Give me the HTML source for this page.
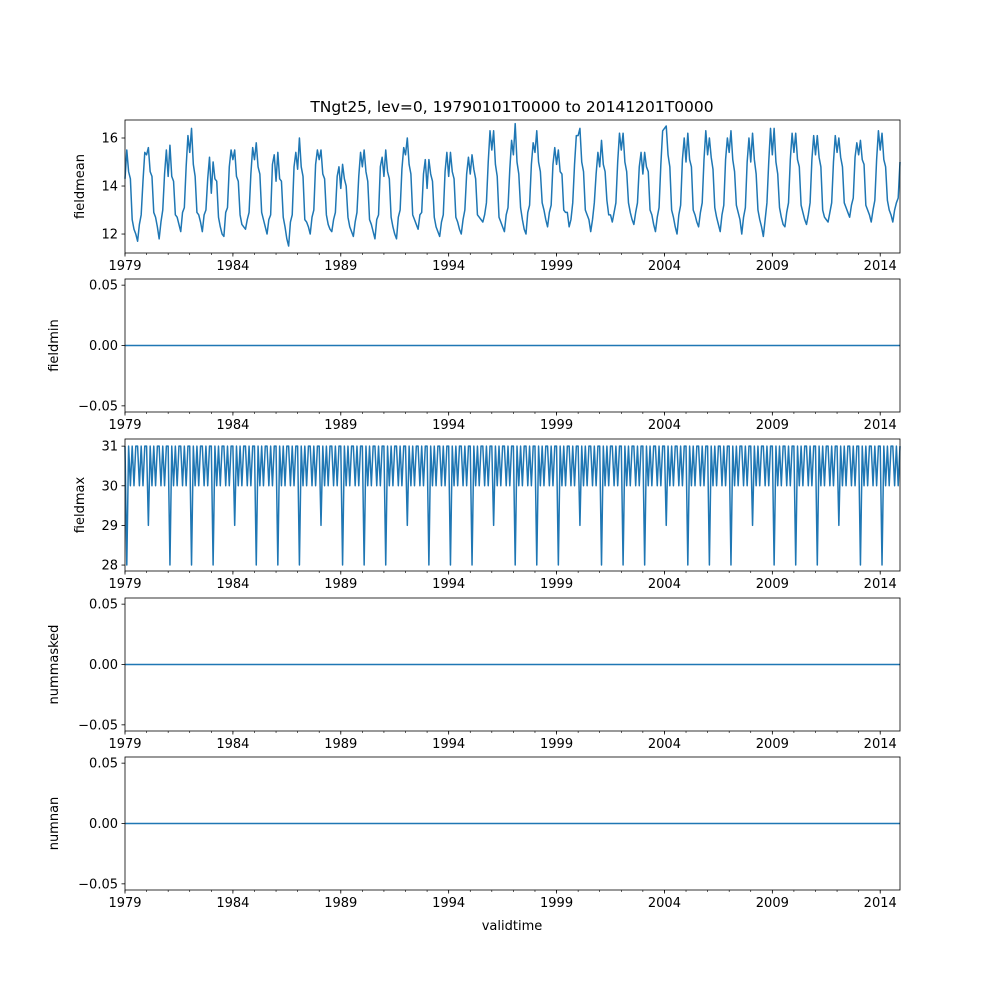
<!DOCTYPE html>
<html><head><meta charset="utf-8"><style>
html,body{margin:0;padding:0;background:#fff;}
svg{display:block;font-family:"DejaVu Sans","Liberation Sans",sans-serif;}
</style></head><body>
<svg id="fig" width="1000" height="1000" viewBox="0 0 1000 1000"></svg>
<script>
const years = [1979,1980,1981,1982,1983,1984,1985,1986,1987,1988,1989,1990,1991,1992,1993,1994,1995,1996,1997,1998,1999,2000,2001,2002,2003,2004,2005,2006,2007,2008,2009,2010,2011,2012,2013,2014];
const tickYears = [1979,1984,1989,1994,1999,2004,2009,2014];
const fieldmean = [
14.3,15.5,14.6,14.3,12.6,12.2,12.0,11.7,12.4,12.8,14.2,15.4,
15.3,15.6,14.6,14.4,12.9,12.7,12.3,11.8,12.5,13.0,14.5,15.5,
14.4,15.7,14.4,14.2,12.8,12.7,12.4,12.1,12.9,13.1,14.8,16.1,
15.4,16.4,14.9,14.4,12.9,12.8,12.5,12.1,12.8,13.0,14.3,15.2,
13.7,15.0,14.3,14.2,12.7,12.3,12.0,11.9,12.9,13.1,14.8,15.5,
15.1,15.5,14.4,14.2,12.8,12.4,12.3,12.2,12.6,12.9,14.5,15.6,
15.1,15.8,14.8,14.5,12.9,12.6,12.3,12.0,12.6,12.8,14.9,15.3,
14.2,15.4,14.3,14.2,12.7,12.3,11.8,11.5,12.5,12.8,14.8,15.4,
14.7,16.0,14.8,14.4,12.6,12.5,12.3,12.0,12.7,13.0,14.9,15.5,
15.1,15.5,14.5,14.3,12.8,12.4,12.2,12.1,12.6,12.9,14.4,14.8,
13.9,14.9,14.3,14.0,12.7,12.3,12.1,11.9,12.5,12.9,14.4,15.4,
14.8,15.5,14.6,14.2,12.6,12.4,12.1,11.8,12.6,12.8,14.8,15.2,
14.4,15.5,14.6,14.3,12.7,12.3,12.0,11.8,12.7,13.0,14.7,15.6,
15.3,16.0,14.9,14.5,12.8,12.6,12.4,12.2,12.8,12.9,14.5,15.1,
13.9,15.1,14.5,14.2,12.7,12.3,12.1,11.9,12.5,12.8,14.6,15.4,
14.4,15.4,14.6,14.3,12.7,12.5,12.2,12.0,12.6,13.0,14.5,15.2,
14.5,15.3,14.7,14.3,12.8,12.7,12.6,12.5,12.8,13.3,15.0,16.3,
15.5,16.3,14.9,14.4,12.7,12.5,12.3,12.1,12.8,13.1,14.7,15.9,
15.3,16.6,15.0,14.5,13.1,12.6,12.2,12.0,12.9,13.2,14.9,15.8,
15.4,16.3,15.0,14.6,13.3,13.0,12.6,12.3,12.9,13.2,14.9,15.6,
14.9,15.5,14.6,14.5,13.0,12.9,12.9,12.3,12.6,13.3,14.9,16.1,
16.1,16.4,15.0,14.6,13.0,12.8,12.6,12.1,12.6,13.3,14.5,15.4,
14.8,15.9,14.9,14.6,13.4,12.8,12.8,12.5,12.9,13.3,15.0,16.2,
15.5,16.2,15.0,14.6,13.3,12.9,12.6,12.4,12.9,13.3,14.8,15.4,
14.5,15.4,14.8,14.6,13.0,12.8,12.4,12.1,12.7,13.1,14.9,16.3,
16.4,16.5,15.3,14.8,13.0,12.7,12.3,12.0,12.8,13.2,15.1,16.0,
15.0,16.2,15.1,14.8,13.0,12.8,12.5,12.3,12.9,13.3,15.1,16.3,
15.3,16.0,15.2,14.7,13.1,12.7,12.4,12.1,12.8,13.2,15.1,16.0,
15.4,16.3,15.1,14.6,13.2,12.9,12.6,12.0,12.7,13.1,15.0,16.0,
15.0,16.2,15.1,14.5,13.0,12.6,12.3,11.9,12.6,13.3,15.0,16.4,
15.3,16.4,15.0,14.5,13.1,12.7,12.4,12.3,12.9,13.3,15.1,16.2,
15.4,16.2,15.1,14.8,13.2,12.9,12.6,12.4,12.8,13.3,15.1,16.1,
15.3,16.1,15.2,14.8,13.0,12.7,12.6,12.5,12.9,13.3,15.0,16.1,
15.4,16.0,15.2,14.8,13.3,13.1,12.9,12.7,13.2,13.5,15.2,15.8,
15.3,15.9,15.1,14.9,13.2,13.0,12.8,12.5,13.0,13.4,15.1,16.3,
15.5,16.2,15.1,14.8,13.4,13.0,12.8,12.5,13.0,13.3,13.5,15.0];
const fieldmax = [
31,28,31,30,31,30,31,31,30,31,30,31, 31,29,31,30,31,30,31,31,30,31,30,31,
31,28,31,30,31,30,31,31,30,31,30,31, 31,28,31,30,31,30,31,31,30,31,30,31,
31,28,31,30,31,30,31,31,30,31,30,31, 31,29,31,30,31,30,31,31,30,31,30,31,
31,28,31,30,31,30,31,31,30,31,30,31, 31,28,31,30,31,30,31,31,30,31,30,31,
31,28,31,30,31,30,31,31,30,31,30,31, 31,29,31,30,31,30,31,31,30,31,30,31,
31,28,31,30,31,30,31,31,30,31,30,31, 31,28,31,30,31,30,31,31,30,31,30,31,
31,28,31,30,31,30,31,31,30,31,30,31, 31,29,31,30,31,30,31,31,30,31,30,31,
31,28,31,30,31,30,31,31,30,31,30,31, 31,28,31,30,31,30,31,31,30,31,30,31,
31,28,31,30,31,30,31,31,30,31,30,31, 31,29,31,30,31,30,31,31,30,31,30,31,
31,28,31,30,31,30,31,31,30,31,30,31, 31,28,31,30,31,30,31,31,30,31,30,31,
31,28,31,30,31,30,31,31,30,31,30,31, 31,29,31,30,31,30,31,31,30,31,30,31,
31,28,31,30,31,30,31,31,30,31,30,31, 31,28,31,30,31,30,31,31,30,31,30,31,
31,28,31,30,31,30,31,31,30,31,30,31, 31,29,31,30,31,30,31,31,30,31,30,31,
31,28,31,30,31,30,31,31,30,31,30,31, 31,28,31,30,31,30,31,31,30,31,30,31,
31,28,31,30,31,30,31,31,30,31,30,31, 31,29,31,30,31,30,31,31,30,31,30,31,
31,28,31,30,31,30,31,31,30,31,30,31, 31,28,31,30,31,30,31,31,30,31,30,31,
31,28,31,30,31,30,31,31,30,31,30,31, 31,29,31,30,31,30,31,31,30,31,30,31,
31,28,31,30,31,30,31,31,30,31,30,31, 31,28,31,30,31,30,31,31,30,31,30,31];
const zeroSeries = fieldmean.map(()=>0);
const meanTicks = [12,14,16];
const maxTicks = [28,29,30,31];
const zeroTicks = [-0.05,0.00,0.05];
const zeroTickLabels = ["\u22120.05","0.00","0.05"];

const NS="http://www.w3.org/2000/svg";
const svg=document.getElementById('fig');
function mk(tag,attrs,parent){const e=document.createElementNS(NS,tag);for(const k in attrs)e.setAttribute(k,attrs[k]);(parent||svg).appendChild(e);return e;}
const L=125,R=900;
const nPts=fieldmean.length;
function xOf(i){return L+i/(nPts-1)*(R-L);}

const panels=[
 {name:'fieldmean',top:120,bot:253,min:11.21,max:16.75,data:fieldmean,ticks:meanTicks,labels:meanTicks.map(String),lx:84},
 {name:'fieldmin',top:279,bot:412,min:-0.0551,max:0.0551,data:zeroSeries,ticks:zeroTicks,labels:zeroTickLabels,lx:58},
 {name:'fieldmax',top:439,bot:571,min:27.85,max:31.18,data:fieldmax,ticks:maxTicks,labels:maxTicks.map(String),lx:84},
 {name:'nummasked',top:598,bot:731,min:-0.0551,max:0.0551,data:zeroSeries,ticks:zeroTicks,labels:zeroTickLabels,lx:58},
 {name:'numnan',top:757,bot:890,min:-0.0551,max:0.0551,data:zeroSeries,ticks:zeroTicks,labels:zeroTickLabels,lx:58}
];

panels.forEach(p=>{
  const g=mk('g',{});
  
  
  const yOf=v=>p.bot-(v-p.min)/(p.max-p.min)*(p.bot-p.top);
  // line
  let d='';
  p.data.forEach((v,i)=>{d+=(i?'L':'M')+xOf(i).toFixed(2)+','+yOf(v).toFixed(2);});
  const line=mk('path',{d:d,fill:'none',stroke:'#1f77b4','stroke-width':1.5,'stroke-linejoin':'round'},g);
  
  
  // frame
  const fr=mk('rect',{x:L,y:p.top,width:R-L,height:p.bot-p.top,fill:'none',stroke:'#000','stroke-width':0.8},g);
  
  
  // y ticks
  p.ticks.forEach((t,k)=>{
    const y=yOf(t);
    mk('line',{x1:L-3.5,x2:L,y1:y,y2:y,stroke:'#000','stroke-width':0.8},g);
    const tx=mk('text',{x:L-7,y:y+4.5,'font-size':13,'text-anchor':'end'},g);
    tx.textContent=p.labels[k];
    
    
  });
  // x minor ticks (every year)
  years.forEach(yr=>{
    const x=xOf((yr-1979)*12);
    mk('line',{x1:x,x2:x,y1:p.bot,y2:p.bot+2,stroke:'#000','stroke-width':0.6},g);
  });
  tickYears.forEach(yr=>{
    const x=xOf((yr-1979)*12);
    mk('line',{x1:x,x2:x,y1:p.bot,y2:p.bot+3.5,stroke:'#000','stroke-width':0.8},g);
    const tx=mk('text',{x:x,y:p.bot+17,'font-size':13,'text-anchor':'middle'},g);
    tx.textContent=String(yr);
    
    
  });
  const yl=mk('text',{x:p.lx,y:(p.top+p.bot)/2,'font-size':13,'text-anchor':'middle',transform:`rotate(-90 ${p.lx} ${(p.top+p.bot)/2})`},g);
  yl.textContent=p.name;
  
  
});
const title=mk('text',{x:512,y:112,'font-size':15.5,'text-anchor':'middle'});
title.textContent='TNgt25, lev=0, 19790101T0000 to 20141201T0000';


const xl=mk('text',{x:512,y:930,'font-size':13,'text-anchor':'middle'});
xl.textContent='validtime';


</script>
</body></html>
